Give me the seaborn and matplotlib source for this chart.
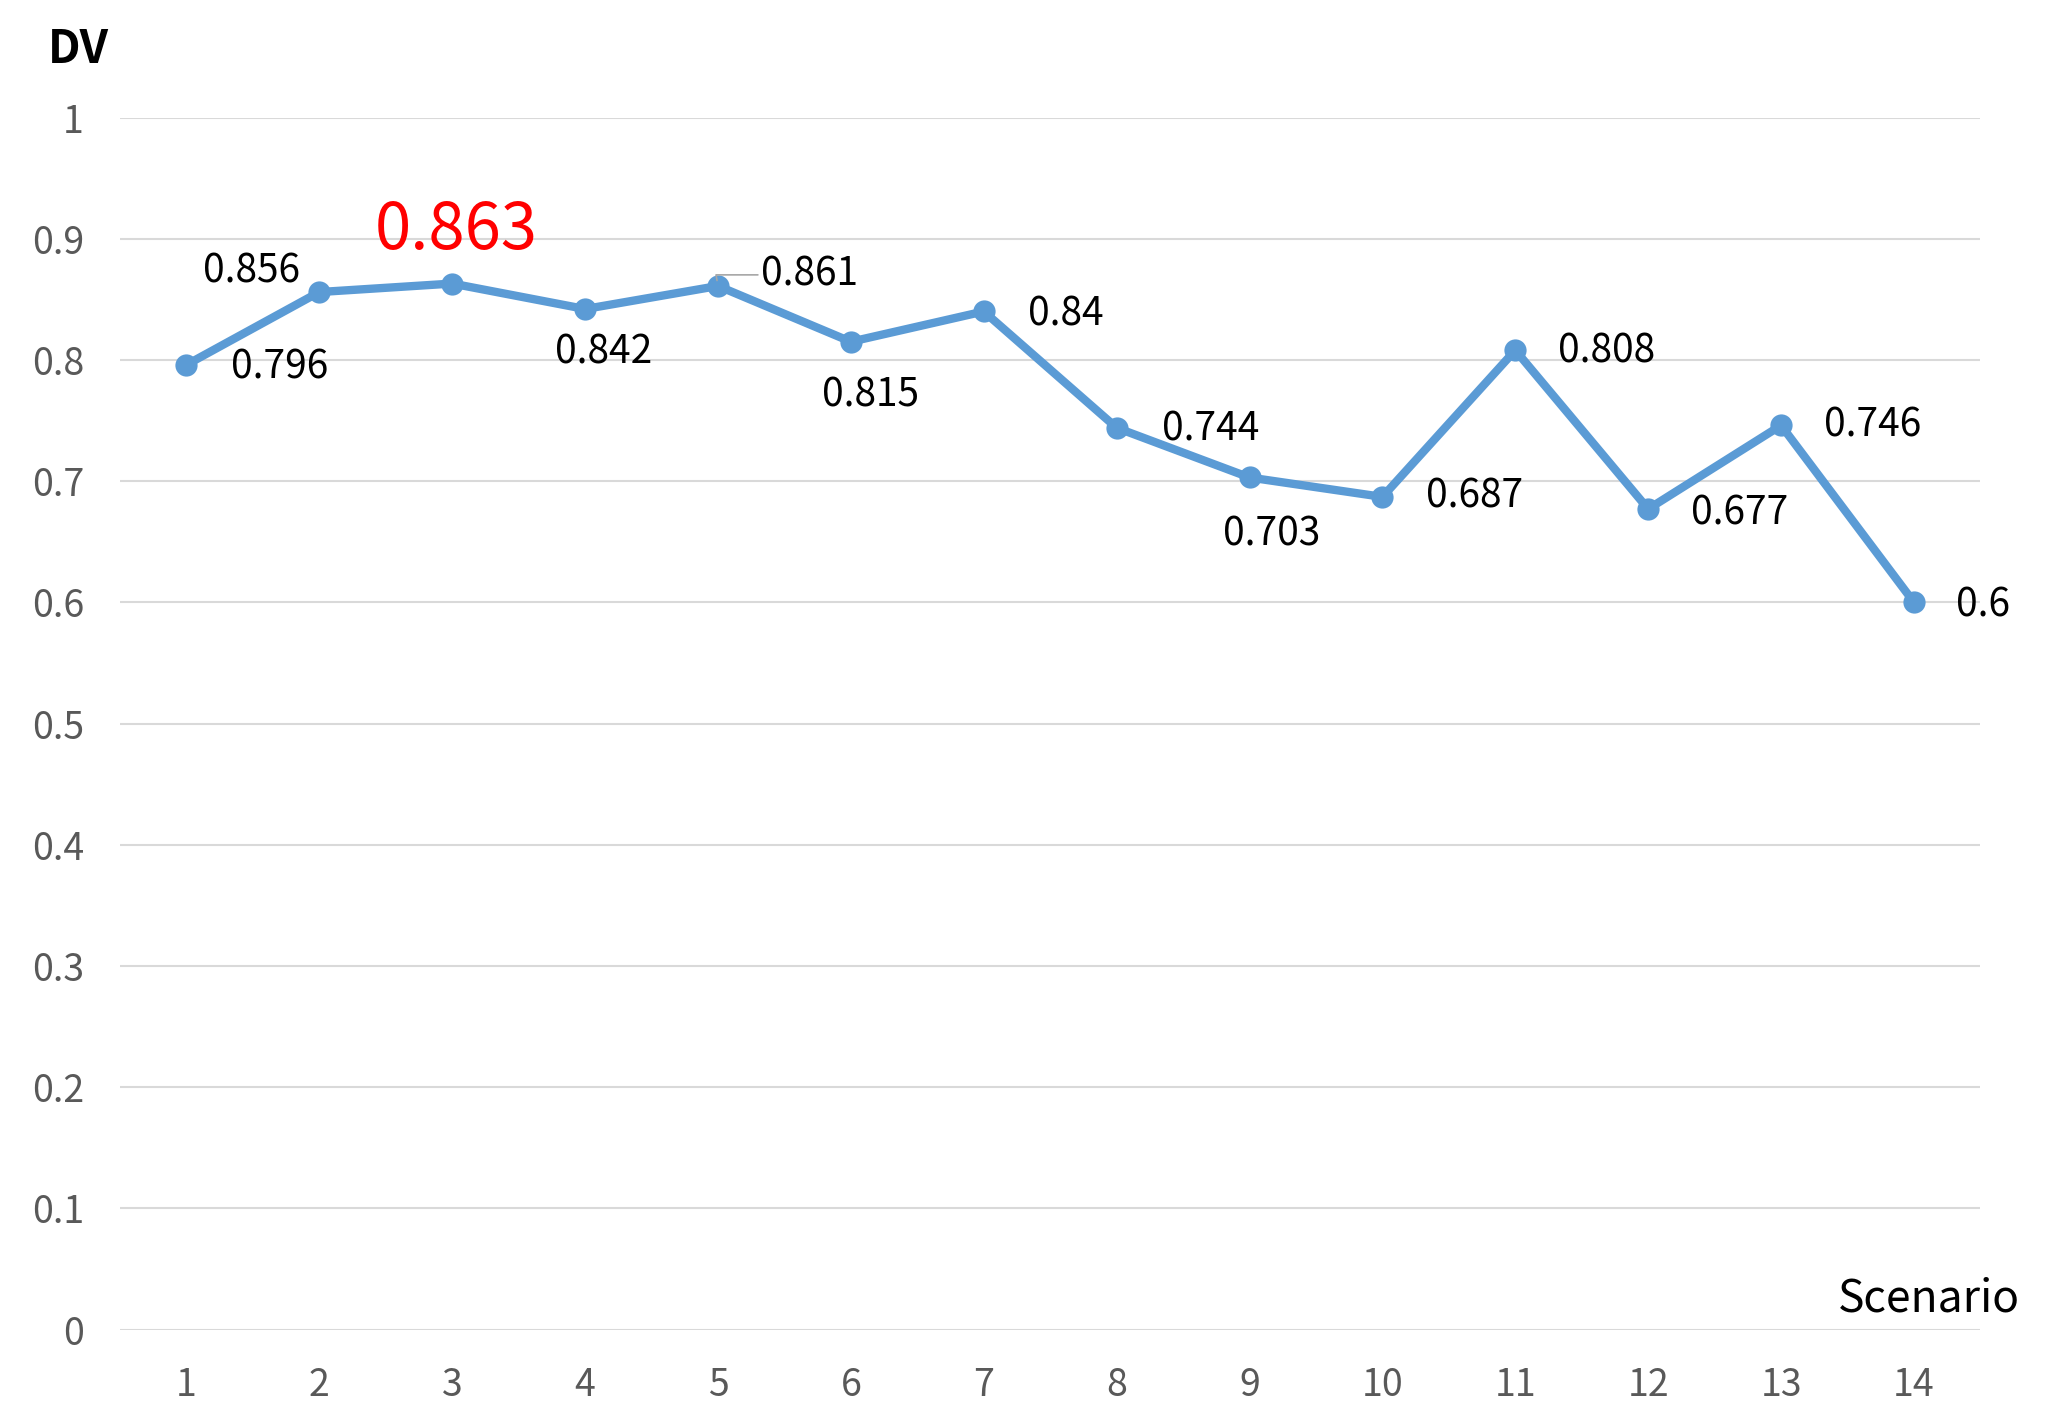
import matplotlib
matplotlib.use("Agg")
import matplotlib.pyplot as plt
import seaborn as sns
import pandas as pd

# Data
scenarios = list(range(1, 15))
dv = [0.796, 0.856, 0.863, 0.842, 0.861, 0.815, 0.84,
      0.744, 0.703, 0.687, 0.808, 0.677, 0.746, 0.6]
labels = ["0.796", "0.856", "0.863", "0.842", "0.861", "0.815", "0.84",
          "0.744", "0.703", "0.687", "0.808", "0.677", "0.746", "0.6"]
y_ticks = [0, 0.1, 0.2, 0.3, 0.4, 0.5, 0.6, 0.7, 0.8, 0.9, 1]
y_ticklabels = ["0", "0.1", "0.2", "0.3", "0.4", "0.5", "0.6", "0.7", "0.8", "0.9", "1"]
highlight = 3  # scenario with the red label

# label offsets in points (dx, dy)
offsets = [(67, -2), (-49, 15), (3, 38), (13, -31), (66, 8), (14, -39), (59, -2),
           (68, -1), (16, -41), (66, 0), (66, -1), (66, -3), (66, 0), (50, -2)]

df = pd.DataFrame({"Scenario": scenarios, "DV": dv})

sns.set_style("white")
plt.rcParams["font.family"] = ["Noto Sans CJK KR", "DejaVu Sans"]

fig = plt.figure(figsize=(20.48, 14.26), dpi=100)
ax = fig.add_axes([0.0586, 0.0676, 0.9084, 0.85])

blue = "#5B9BD5"
sns.lineplot(data=df, x="Scenario", y="DV", ax=ax, color=blue, linewidth=6,
             marker="o", markersize=16, markeredgewidth=0, zorder=3)

ax.set_xlim(0.5, 14.5)
ax.set_ylim(0, 1)
ax.set_yticks(y_ticks)
ax.set_yticklabels(y_ticklabels)
ax.set_xticks(scenarios)
ax.set_xticklabels([str(s) for s in scenarios])
ax.tick_params(axis="both", length=0, labelsize=27, labelcolor="#595959", pad=26)
ax.grid(axis="y", color="#D9D9D9", linewidth=1.5)
ax.set_axisbelow(True)
for sp in ax.spines.values():
    sp.set_visible(False)
ax.set_xlabel("")
ax.set_ylabel("")

for x, y, lab, (dx, dy) in zip(scenarios, dv, labels, offsets):
    if x == highlight:
        ax.annotate(lab, (x, y), xytext=(dx, dy), textcoords="offset points",
                    ha="center", va="center", fontsize=47, color="#FF0000")
    elif x == 5:
        ax.annotate(lab, (x, y), xytext=(dx, dy), textcoords="offset points",
                    ha="center", va="center", fontsize=28, color="black",
                    arrowprops=dict(arrowstyle="-", color="#A6A6A6", lw=1.2,
                                    shrinkA=32, shrinkB=4,
                                    connectionstyle="angle,angleA=0,angleB=100"))
    else:
        ax.annotate(lab, (x, y), xytext=(dx, dy), textcoords="offset points",
                    ha="center", va="center", fontsize=28, color="black")

fig.text(78 / 2048, 1 - 50 / 1426, "DV", fontsize=33, color="black",
         ha="center", va="center", fontweight="bold")
fig.text(1929 / 2048, 1 - 1298 / 1426, "Scenario", fontsize=32, color="black",
         ha="center", va="center")

fig.savefig("out.png", dpi=100)
